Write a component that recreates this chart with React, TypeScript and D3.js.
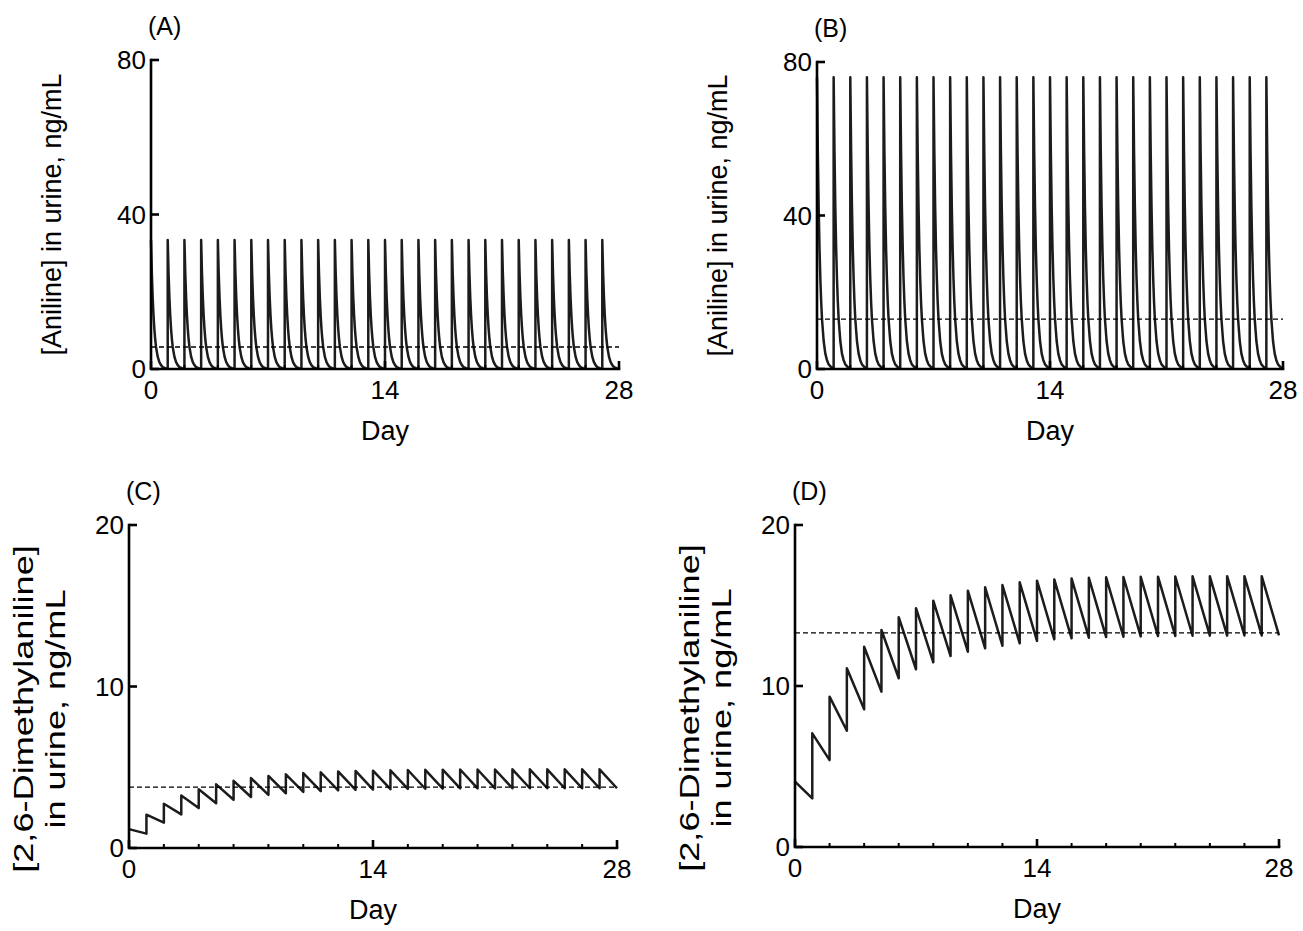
import React from "react";
import * as d3 from "d3";

const W = 1303;
const H = 931;
const FONT = "Arial, 'Liberation Sans', Helvetica, sans-serif";

// one dose every day, days 0..27
const doseDays = [0, 1, 2, 3, 4, 5, 6, 7, 8, 9, 10, 11, 12, 13, 14, 15, 16, 17, 18, 19, 20, 21, 22, 23, 24, 25, 26, 27];

// aniline after each dose: time since dose (day) -> ng/mL
const profileOffsets = [0, 0.05, 0.1, 0.15, 0.2, 0.25, 0.3, 0.4, 0.5, 0.6, 0.7, 0.85, 1];
const anilineLow = [33.4, 24.9, 18.6, 13.9, 10.4, 7.7, 5.7, 3.2, 1.8, 1.0, 0.5, 0.2, 0.1];
const anilineHigh = [76, 56.7, 42.3, 31.5, 23.6, 17.6, 13.1, 7.3, 4.0, 2.3, 1.2, 0.5, 0.2];
const anilineLowMean = 5.7;
const anilineHighMean = 13.0;

// 2,6-dimethylaniline: right after each dose / just before the next one
const dmaLowPeaks = [1.17, 2.06, 2.74, 3.25, 3.64, 3.94, 4.16, 4.33, 4.46, 4.56, 4.64, 4.69, 4.74, 4.77, 4.79, 4.81, 4.83, 4.84, 4.85, 4.86, 4.86, 4.86, 4.87, 4.87, 4.87, 4.87, 4.87, 4.87];
const dmaLowTroughs = [0.89, 1.57, 2.08, 2.47, 2.77, 2.99, 3.16, 3.29, 3.39, 3.47, 3.52, 3.57, 3.6, 3.62, 3.64, 3.66, 3.67, 3.68, 3.69, 3.69, 3.69, 3.7, 3.7, 3.7, 3.7, 3.7, 3.7, 3.7];
const dmaHighPeaks = [4.06, 7.06, 9.34, 11.1, 12.44, 13.48, 14.27, 14.83, 15.3, 15.63, 15.92, 16.13, 16.27, 16.44, 16.54, 16.62, 16.68, 16.72, 16.75, 16.77, 16.78, 16.79, 16.8, 16.81, 16.81, 16.82, 16.82, 16.82];
const dmaHighTroughs = [3.02, 5.4, 7.22, 8.55, 9.65, 10.48, 11.04, 11.47, 11.86, 12.13, 12.34, 12.5, 12.65, 12.8, 12.9, 12.96, 13.0, 13.04, 13.06, 13.08, 13.1, 13.11, 13.12, 13.13, 13.13, 13.14, 13.14, 13.14];
const dmaLowMean = 3.77;
const dmaHighMean = 13.3;

const xMajorTicks = [0, 14, 28];
const xMinorTicks = [2, 4, 6, 8, 10, 12, 16, 18, 20, 22, 24, 26];
const anilineTicks = [0, 40, 80];
const dmaTicks = [0, 10, 20];

type Pt = [number, number];

const spikePoints = (conc: number[]): Pt[] => {
  const pts: Pt[] = [];
  doseDays.forEach((d) => {
    profileOffsets.forEach((o, i) => pts.push([d + o, conc[i]]));
  });
  return pts;
};

const sawPoints = (peaks: number[], troughs: number[]): Pt[] => {
  const pts: Pt[] = [];
  doseDays.forEach((d, i) => {
    pts.push([d, peaks[i]]);
    pts.push([d + 1, troughs[i]]);
  });
  return pts;
};

type PanelProps = {
  label: string;
  left: number;
  right: number;
  top: number;
  bottom: number;
  yTicks: number[];
  yTitle: string[];
  points: Pt[];
  mean: number;
};

const Panel = ({ label, left, right, top, bottom, yTicks, yTitle, points, mean }: PanelProps) => {
  const x = d3.scaleLinear().domain([0, 28]).range([left, right]);
  const y = d3.scaleLinear().domain([0, yTicks[yTicks.length - 1]]).range([bottom, top]);
  const line = d3
    .line<Pt>()
    .x((d) => x(d[0]))
    .y((d) => y(d[1]));
  const twoLines = yTitle.length > 1;
  // the two-line title is stretched along its length in the original figure
  const titleY = twoLines ? bottom - 139 : (top + bottom) / 2;
  const titleX = twoLines ? [left - 96, left - 64] : [left - 90];
  const stretch = twoLines ? 1.34 : 1;

  return (
    <g>
      <text x={left - 3} y={top - 25} fontSize={25} fontFamily={FONT}>
        {label}
      </text>

      {/* data */}
      <path d={line(points) || ""} fill="none" stroke="#1c1c1c" strokeWidth={2.5} strokeLinejoin="round" />
      <line x1={x(0)} x2={x(28)} y1={y(mean)} y2={y(mean)} stroke="#000" strokeWidth={1.3} strokeDasharray="5,3" />

      {/* axes */}
      <path
        d={`M${left},${y(yTicks[yTicks.length - 1])}V${bottom}H${x(28)}`}
        fill="none"
        stroke="#000"
        strokeWidth={2.6}
        strokeLinecap="square"
      />
      {yTicks.map((t) => (
        <g key={"y" + t}>
          <line x1={left} x2={left + 8} y1={y(t)} y2={y(t)} stroke="#000" strokeWidth={2.6} />
          <text x={left - 5} y={y(t)} dy="0.36em" textAnchor="end" fontSize={26} fontFamily={FONT}>
            {t}
          </text>
        </g>
      ))}
      {xMinorTicks.map((t) => (
        <line key={"m" + t} x1={x(t)} x2={x(t)} y1={bottom} y2={bottom - 4} stroke="#000" strokeWidth={2} />
      ))}
      {xMajorTicks.map((t) => (
        <g key={"x" + t}>
          <line x1={x(t)} x2={x(t)} y1={bottom} y2={bottom - 8} stroke="#000" strokeWidth={2.6} />
          <text x={x(t)} y={bottom + 30} textAnchor="middle" fontSize={26} fontFamily={FONT}>
            {t}
          </text>
        </g>
      ))}
      <text x={(left + right) / 2} y={bottom + 71} textAnchor="middle" fontSize={27} fontFamily={FONT}>
        Day
      </text>
      {yTitle.map((s, i) => (
        <text
          key={s}
          transform={`translate(${titleX[i]},${titleY}) rotate(-90) scale(${stretch},1)`}
          textAnchor="middle"
          fontSize={27}
          fontFamily={FONT}
        >
          {s}
        </text>
      ))}
    </g>
  );
};

export default function App() {
  return (
    <svg width={W} height={H} style={{ display: "block", position: "absolute", left: 0, top: 0, background: "#fff" }}>
      <Panel
        label="(A)"
        left={151}
        right={619}
        top={60}
        bottom={369}
        yTicks={anilineTicks}
        yTitle={["[Aniline] in urine, ng/mL"]}
        points={spikePoints(anilineLow)}
        mean={anilineLowMean}
      />
      <Panel
        label="(B)"
        left={817}
        right={1283}
        top={62}
        bottom={369}
        yTicks={anilineTicks}
        yTitle={["[Aniline] in urine, ng/mL"]}
        points={spikePoints(anilineHigh)}
        mean={anilineHighMean}
      />
      <Panel
        label="(C)"
        left={129}
        right={617}
        top={525}
        bottom={848}
        yTicks={dmaTicks}
        yTitle={["[2,6-Dimethylaniline]", "in urine, ng/mL"]}
        points={sawPoints(dmaLowPeaks, dmaLowTroughs)}
        mean={dmaLowMean}
      />
      <Panel
        label="(D)"
        left={795}
        right={1279}
        top={525}
        bottom={847}
        yTicks={dmaTicks}
        yTitle={["[2,6-Dimethylaniline]", "in urine, ng/mL"]}
        points={sawPoints(dmaHighPeaks, dmaHighTroughs)}
        mean={dmaHighMean}
      />
    </svg>
  );
}
